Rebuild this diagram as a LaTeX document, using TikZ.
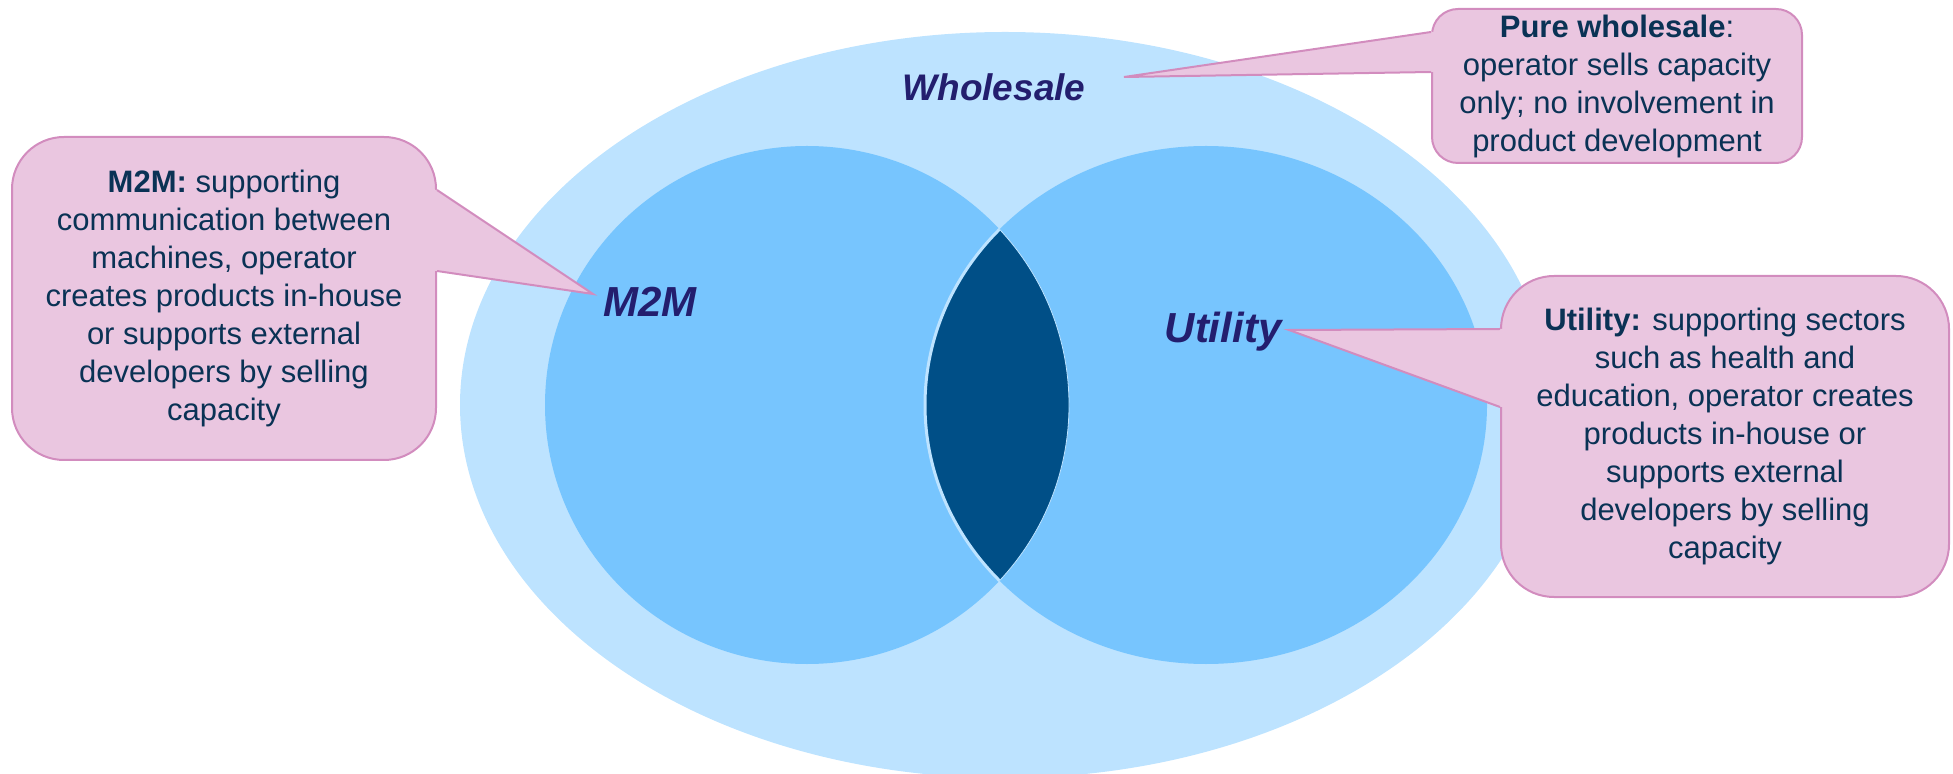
\documentclass[tikz,border=0pt]{standalone}
\usepackage{fontspec}
\setmainfont{Liberation Sans}
\usetikzlibrary{calc}
\definecolor{wsblue}{RGB}{189,227,255}
\definecolor{setblue}{RGB}{119,197,254}
\definecolor{lensblue}{RGB}{0,79,135}
\definecolor{labelink}{RGB}{35,30,110}
\definecolor{noteink}{RGB}{10,50,85}
\definecolor{notefill}{RGB}{234,198,224}
\definecolor{noteline}{RGB}{210,140,190}

\begin{document}
\begin{tikzpicture}[x=0.5pt, y=0.5pt,
  setlabel/.style={font=\fontsize{21}{25}\selectfont\bfseries\itshape, text=labelink, inner sep=0pt, anchor=base},
  note/.style={draw=noteline, fill=notefill, line width=1pt, align=center, text=noteink,
    font=\fontsize{15.5}{19}\selectfont, inner sep=0pt},
  pointer/.style={draw=noteline, line width=1pt}]
  \useasboundingbox (0,0) rectangle (1953,-774);
  % Points of the callouts
  \coordinate (wholesale tip) at (1124,-77);
  \coordinate (m2m tip) at (593,-294);
  \coordinate (utility tip) at (1289,-330);
  % 1. Wholesale set
  \fill[wsblue] (1005,-405) ellipse [x radius=545, y radius=373];
  % 2. M2M and Utility sets
  \fill[setblue] (807,-405) ellipse [x radius=262, y radius=259];
  \fill[setblue] (1206,-405) ellipse [x radius=281, y radius=259];
  % 3. Overlap of the two sets
  \begin{scope}
    \clip (807,-405) ellipse [x radius=262, y radius=259];
    \fill[lensblue] (1206,-405) ellipse [x radius=281, y radius=259];
    \draw[wsblue, line width=1.5pt] (1206,-405) ellipse [x radius=281, y radius=259];
  \end{scope}
  \begin{scope}
    \clip (1206,-405) ellipse [x radius=281, y radius=259];
    \draw[wsblue, line width=0.4pt] (807,-405) ellipse [x radius=262, y radius=259];
  \end{scope}
  % 4. Set labels
  \node[setlabel, font=\fontsize{18.5}{22}\selectfont\bfseries\itshape] (wholesale) at (994,-101) {Wholesale};
  \node[setlabel] (m2m) at (650,-317) {M2M};
  \node[setlabel] (utility) at (1223,-343) {Utility};
  % 5. Callout boxes
  \node[note, minimum width=212pt, minimum height=161.5pt, rounded corners=26pt] (m2m note) at (224,-298.5)
    {\textbf{M2M:} supporting\\communication between\\machines, operator\\creates products in-house\\or supports external\\developers by selling\\capacity};
  \node[note, minimum width=185pt, minimum height=77pt, rounded corners=13pt] (pure note) at (1617,-86)
    {\textbf{Pure wholesale}:\\operator sells capacity\\only; no involvement in\\product development};
  \node[note, minimum width=224pt, minimum height=160.5pt, rounded corners=26.5pt] (utility note) at (1725,-436.5)
    {\textbf{Utility:} supporting sectors\\such as health and\\education, operator creates\\products in-house or\\supports external\\developers by selling\\capacity};
  % 6. Callout pointers
  \coordinate (m2m a) at ($(m2m note.north east)+(0,-54)$);
  \coordinate (m2m b) at ($(m2m note.north east)+(0,-135)$);
  \fill[notefill] ($(m2m a)+(-4,0)$) -- (m2m a) -- (m2m tip) -- (m2m b) -- ($(m2m b)+(-4,0)$) -- cycle;
  \draw[pointer] (m2m a) -- (m2m tip) -- (m2m b);
  \coordinate (pure a) at ($(pure note.north west)+(0,-24)$);
  \coordinate (pure b) at ($(pure note.north west)+(0,-64)$);
  \fill[notefill] ($(pure a)+(4,0)$) -- (pure a) -- (wholesale tip) -- (pure b) -- ($(pure b)+(4,0)$) -- cycle;
  \draw[pointer] (pure a) -- (wholesale tip) -- (pure b);
  \coordinate (utility a) at ($(utility note.north west)+(0,-54)$);
  \coordinate (utility b) at ($(utility note.north west)+(0,-132)$);
  \fill[notefill] ($(utility a)+(4,0)$) -- (utility a) -- (utility tip) -- (utility b) -- ($(utility b)+(4,0)$) -- cycle;
  \draw[pointer] (utility a) -- (utility tip) -- (utility b);
\end{tikzpicture}
\end{document}
